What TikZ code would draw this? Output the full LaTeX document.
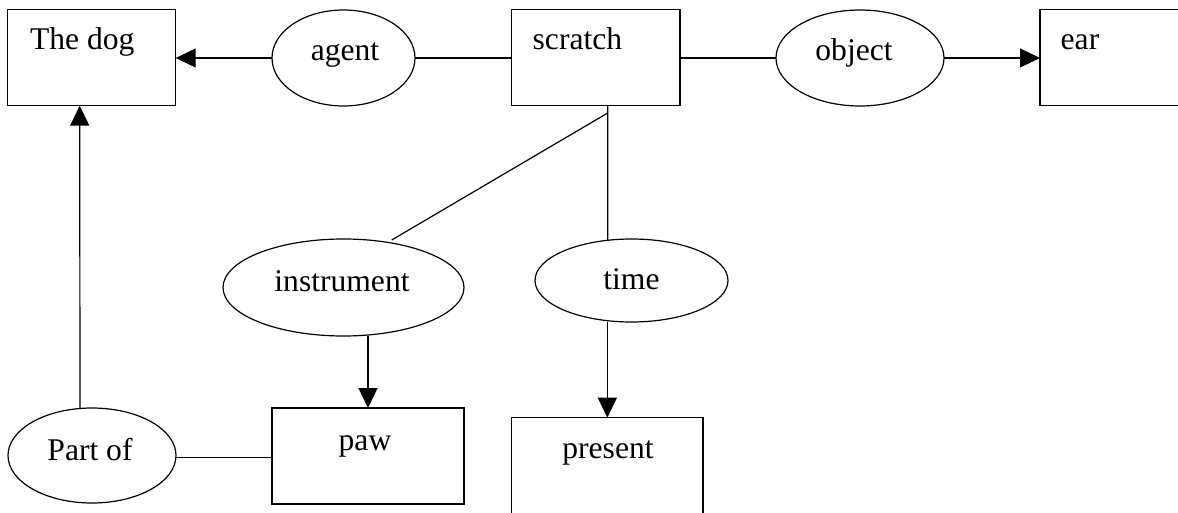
\documentclass[tikz,border=0pt]{standalone}
\usepackage{fontspec}
\setmainfont{Liberation Serif}
\usetikzlibrary{arrows.meta,shapes.geometric}
\begin{document}
\begin{tikzpicture}[x=0.5pt,y=-0.5pt,
  every node/.style={inner sep=0pt,outer sep=0pt},
  box/.style={draw,line width=0.6pt,rectangle},
  oval/.style={draw,line width=0.6pt,ellipse},
  txt/.style={font=\fontsize{15.8}{19}\selectfont},
  link/.style={line width=0.6pt},
  arr/.style={line width=0.6pt,-{Triangle[length=10pt,width=9.5pt]}}]
\useasboundingbox (0,0) rectangle (1178,513);
\clip (0,0) rectangle (1178,513);
% boxes
\node[box,minimum width=84pt,minimum height=48pt] (dog) at (91.7,57.6) {};
\node[box,minimum width=84.15pt,minimum height=48.1pt] (scratch) at (595.85,57.6) {};
\node[box,minimum width=84pt,minimum height=48.1pt] (ear) at (1124,57.6) {};
\node[box,minimum width=96pt,minimum height=48pt] (paw) at (368,456) {};
\node[box,minimum width=95.65pt,minimum height=48pt] (present) at (607.35,465.7) {};
% ellipses
\node[oval,minimum width=71.5pt,minimum height=48pt] (agent) at (343.5,58) {};
\node[oval,minimum width=84pt,minimum height=48pt] (object) at (860,58) {};
\node[oval,minimum width=120.5pt,minimum height=48.5pt] (instrument) at (343.5,287.5) {};
\node[oval,minimum width=96.5pt,minimum height=41.5pt] (time) at (631.5,280.5) {};
\node[oval,minimum width=84pt,minimum height=47.5pt] (partof) at (92,455.5) {};
% texts
\node[txt,anchor=base west] (tdog) at (30,50) {The dog};
\node[txt,anchor=base west] (tscratch) at (532.7,50) {scratch};
\node[txt,anchor=base west] (tear) at (1060.7,50) {ear};
\node[txt,anchor=base] (tpaw) at (365,450) {paw};
\node[txt,anchor=base] (tpresent) at (608,458) {present};
\node[txt,anchor=base] (tagent) at (345,61) {agent};
\node[txt,anchor=base] (tobject) at (854,61) {object};
\node[txt,anchor=base] (tinstrument) at (342,291.7) {instrument};
\node[txt,anchor=base] (ttime) at (631.5,290) {time};
\node[txt,anchor=base] (tpartof) at (90,460) {Part of};
% connectors
\draw[arr] (agent.west) -- (dog.east |- agent.west);
\draw[link] (agent.east) -- (scratch.west |- agent.east);
\draw[link] (scratch.east |- object.west) -- (object.west);
\draw[arr] (object.east) -- (ear.west |- object.east);
\draw[link] ([xshift=5.93pt]scratch.south) -- ([xshift=-11.9pt,yshift=-0.65pt]time.north);
\draw[link] ([xshift=5.93pt,yshift=-3.65pt]scratch.south) -- ([xshift=24.1pt,yshift=-0.5pt]instrument.north);
\draw[arr] (instrument.south -| paw.north) -- (paw.north);
\draw[arr] (time.south -| present.north) -- (present.north);
\draw[arr] ([xshift=-6pt,yshift=-0.5pt]partof.north) -- ([xshift=-6pt]dog.south);
\draw[link] (partof.east |- 0,457.7) -- (paw.west |- 0,457.7);
\end{tikzpicture}
\end{document}
